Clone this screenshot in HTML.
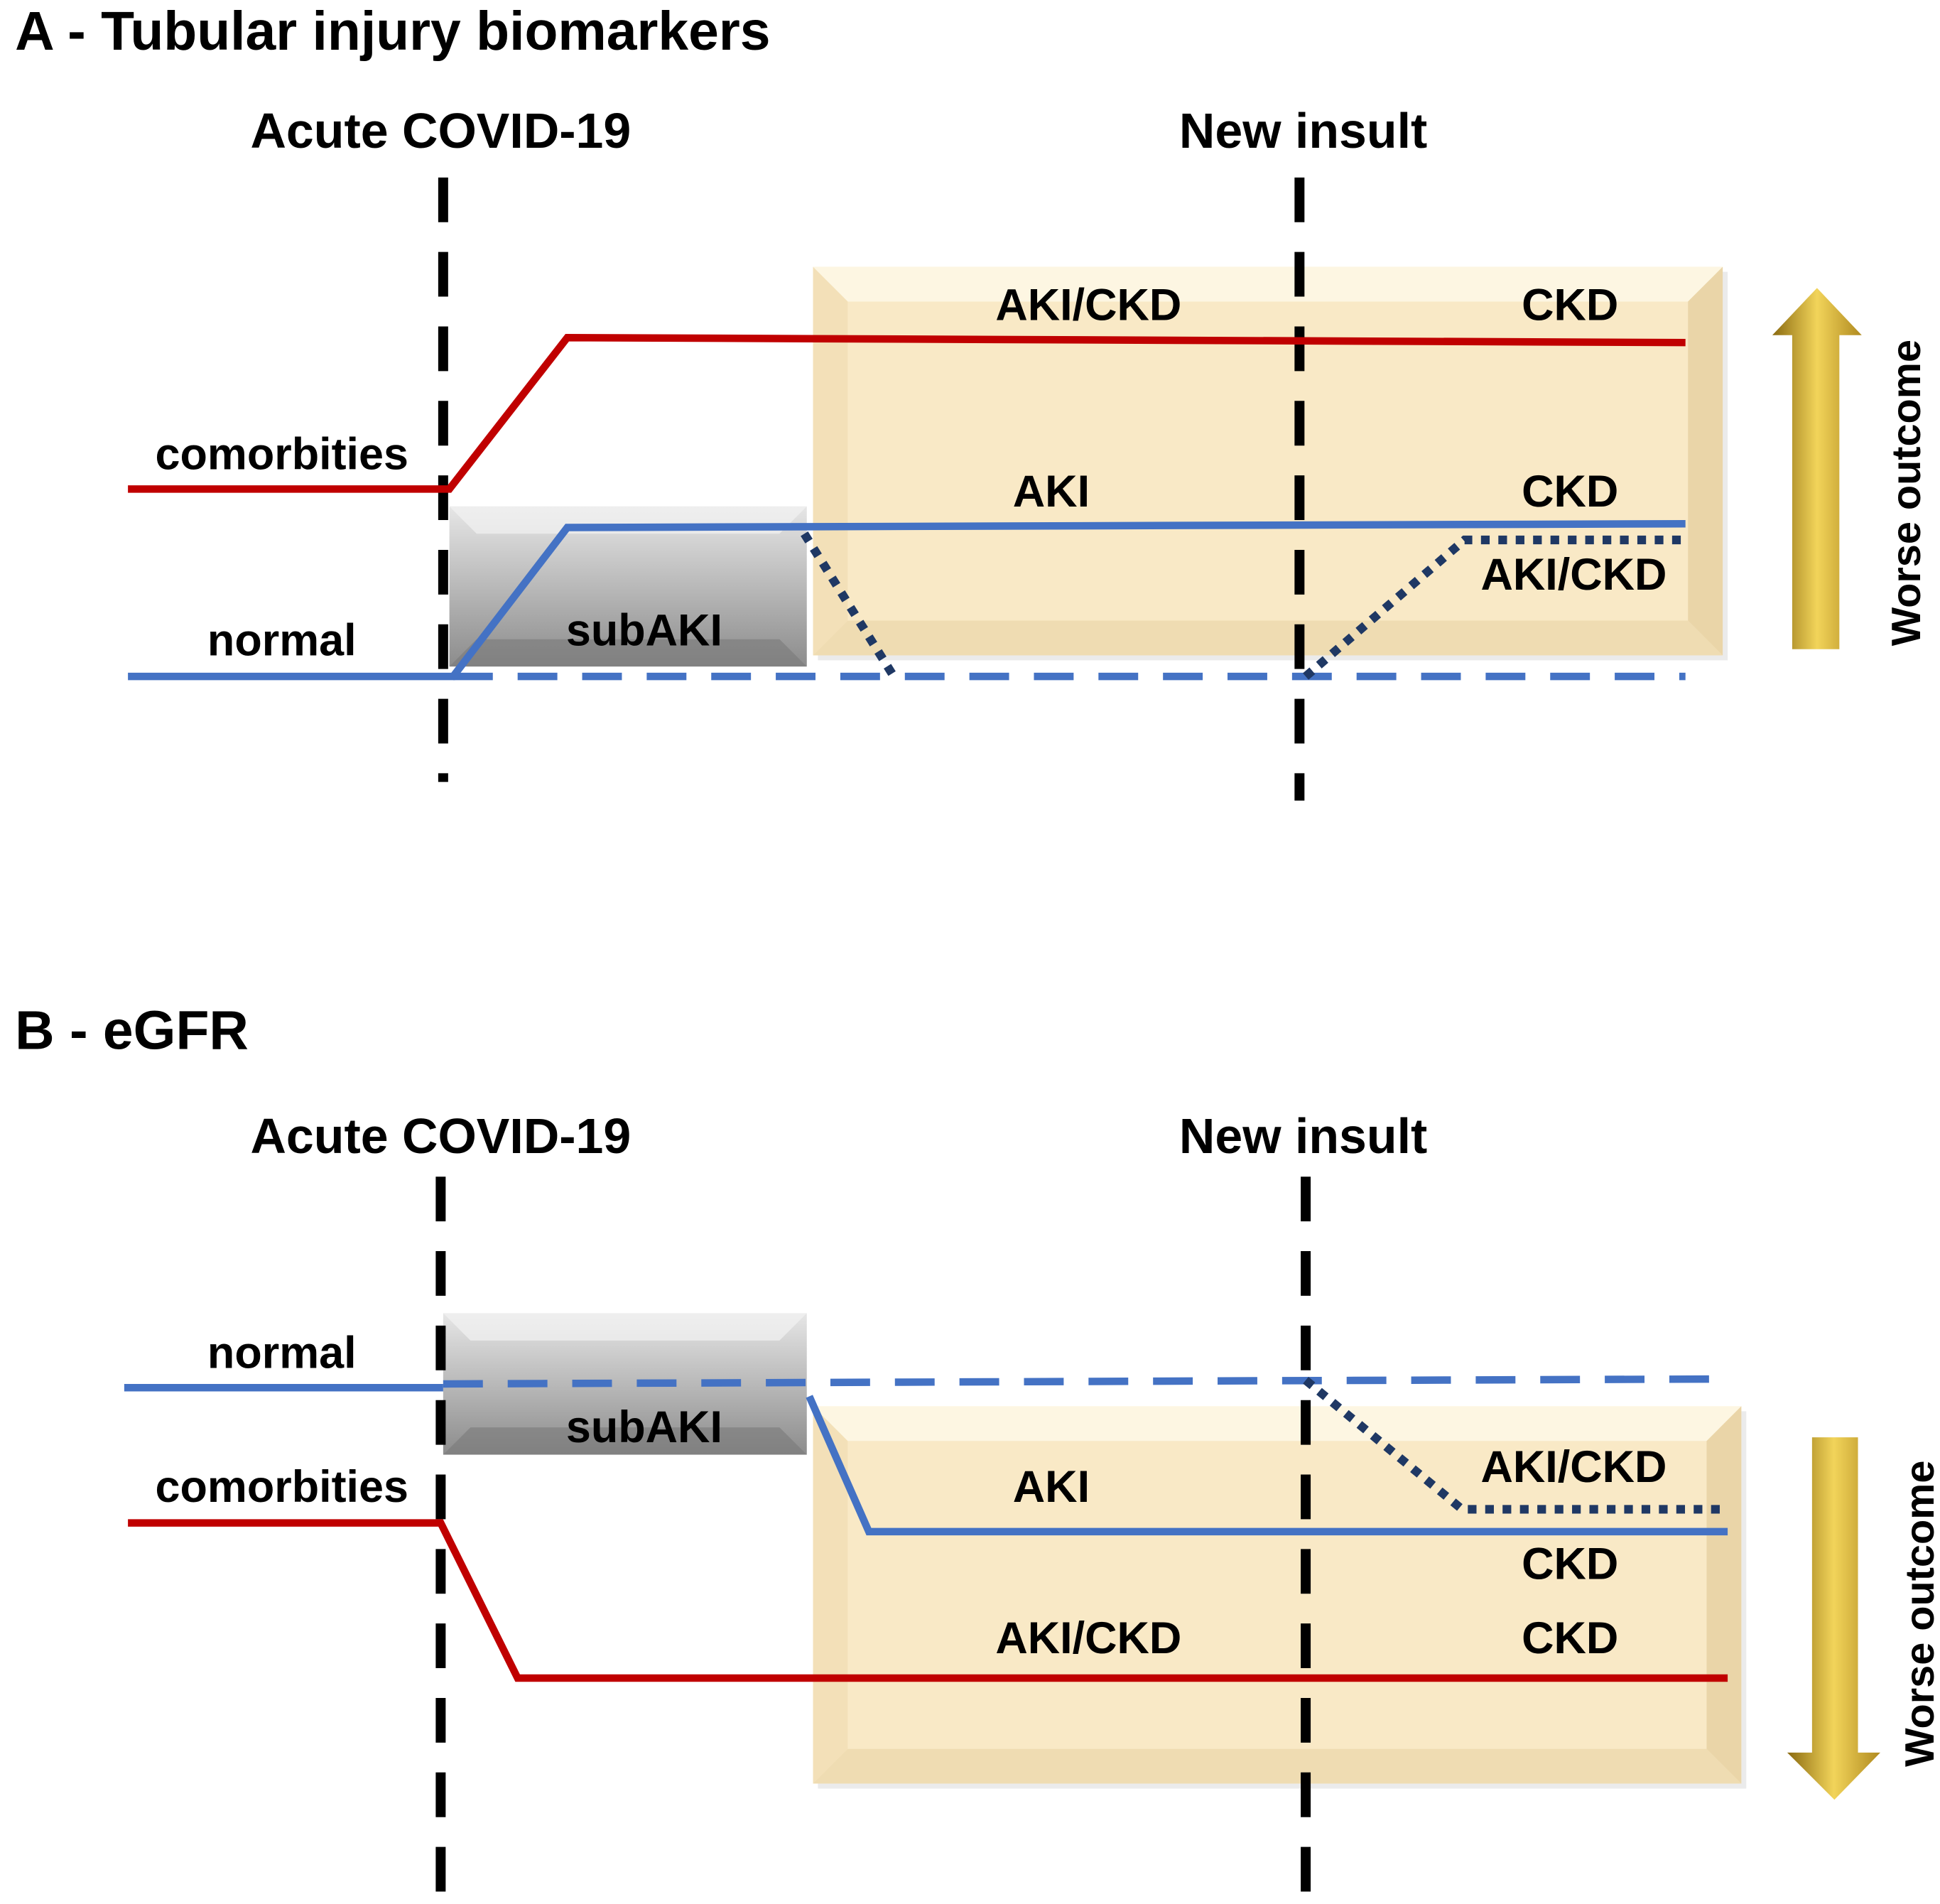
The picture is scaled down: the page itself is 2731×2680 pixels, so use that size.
<!DOCTYPE html>
<html><head><meta charset="utf-8"><style>
html,body{margin:0;padding:0;background:#fff;}
svg{display:block;}
text{font-family:"Liberation Sans",Arial,sans-serif;font-weight:bold;fill:#000;}
</style></head><body>
<svg width="2731" height="2680" viewBox="0 0 1563 1534" xmlns="http://www.w3.org/2000/svg">
<defs>
<linearGradient id="gray" x1="0" y1="0" x2="0" y2="1">
<stop offset="0" stop-color="#e6e6e6"/><stop offset="1" stop-color="#8c8c8c"/></linearGradient>
<linearGradient id="goldv" x1="0" y1="0" x2="1" y2="0">
<stop offset="0" stop-color="#8a6a10"/><stop offset="0.5" stop-color="#f2d45a"/><stop offset="1" stop-color="#b08a20"/></linearGradient>
</defs>

<!-- Panel A -->
<text x="12" y="40" font-size="44">A - Tubular injury biomarkers</text>
<text x="355" y="119" font-size="40" text-anchor="middle">Acute COVID-19</text>
<text x="1050" y="119" font-size="40" text-anchor="middle">New insult</text>

<rect x="659" y="219" width="733" height="313" fill="#ddd" opacity="0.6"/>
<rect x="655" y="215" width="733" height="313" fill="#f9e9c6"/>
<polygon points="655,215 1388,215 1360,243 683,243" fill="#fdf6e2"/>
<polygon points="655,215 683,243 683,500 655,528" fill="#f3e0b8"/>
<polygon points="1388,215 1360,243 1360,500 1388,528" fill="#ead5a8"/>
<polygon points="655,528 683,500 1360,500 1388,528" fill="#efdcb2"/>
<rect x="683" y="243" width="677" height="257" fill="#f9e9c6"/>

<rect x="362" y="408" width="288" height="129" fill="url(#gray)"/>
<polygon points="362,408 650,408 628,430 384,430" fill="#f2f2f2" opacity="0.7"/>
<polygon points="362,537 384,515 628,515 650,537" fill="#7a7a7a" opacity="0.6"/>

<line x1="357" y1="143" x2="357" y2="630" stroke="#000" stroke-width="8" stroke-dasharray="36,24"/>
<line x1="1047" y1="143" x2="1047" y2="645" stroke="#000" stroke-width="8" stroke-dasharray="36,24"/>

<polyline points="103,394 362,394 457,272 1358,276" fill="none" stroke="#c00000" stroke-width="6"/>
<line x1="365" y1="545" x2="1358" y2="545" stroke="#4472c4" stroke-width="6" stroke-dasharray="32,20"/>
<polyline points="103,545 365,545 457,425 1358,422" fill="none" stroke="#4472c4" stroke-width="6"/>
<polyline points="648,430 722,548" fill="none" stroke="#1f3864" stroke-width="7" stroke-dasharray="7,7"/>
<polyline points="1052,545 1180,435 1358,435" fill="none" stroke="#1f3864" stroke-width="7" stroke-dasharray="7,7"/>

<text x="227" y="378" font-size="36" text-anchor="middle">comorbities</text>
<text x="227" y="528" font-size="36" text-anchor="middle">normal</text>
<text x="519" y="520" font-size="36" text-anchor="middle">subAKI</text>
<text x="877" y="258" font-size="36" text-anchor="middle">AKI/CKD</text>
<text x="1265" y="258" font-size="36" text-anchor="middle">CKD</text>
<text x="847" y="408" font-size="36" text-anchor="middle">AKI</text>
<text x="1265" y="408" font-size="36" text-anchor="middle">CKD</text>
<text x="1268" y="475" font-size="36" text-anchor="middle">AKI/CKD</text>

<polygon points="1464,232 1500,270 1482,270 1482,523 1444,523 1444,270 1428,270" fill="url(#goldv)"/>
<text transform="translate(1547,397) rotate(-90)" font-size="33" text-anchor="middle">Worse outcome</text>

<!-- Panel B -->
<text x="12" y="845" font-size="44">B - eGFR</text>
<text x="355" y="929" font-size="40" text-anchor="middle">Acute COVID-19</text>
<text x="1050" y="929" font-size="40" text-anchor="middle">New insult</text>

<rect x="659" y="1137" width="748" height="304" fill="#ddd" opacity="0.6"/>
<rect x="655" y="1133" width="748" height="304" fill="#f9e9c6"/>
<polygon points="655,1133 1403,1133 1375,1161 683,1161" fill="#fdf6e2"/>
<polygon points="655,1133 683,1161 683,1409 655,1437" fill="#f3e0b8"/>
<polygon points="1403,1133 1375,1161 1375,1409 1403,1437" fill="#ead5a8"/>
<polygon points="655,1437 683,1409 1375,1409 1403,1437" fill="#efdcb2"/>
<rect x="683" y="1161" width="692" height="248" fill="#f9e9c6"/>

<rect x="357" y="1058" width="293" height="114" fill="url(#gray)"/>
<polygon points="357,1058 650,1058 628,1080 379,1080" fill="#f2f2f2" opacity="0.7"/>
<polygon points="357,1172 379,1150 628,1150 650,1172" fill="#7a7a7a" opacity="0.6"/>

<line x1="355" y1="948" x2="355" y2="1525" stroke="#000" stroke-width="8" stroke-dasharray="36,24"/>
<line x1="1052" y1="948" x2="1052" y2="1525" stroke="#000" stroke-width="8" stroke-dasharray="36,24"/>

<line x1="100" y1="1118" x2="357" y2="1118" stroke="#4472c4" stroke-width="6"/>
<line x1="357" y1="1115" x2="1392" y2="1111" stroke="#4472c4" stroke-width="6" stroke-dasharray="32,20"/>
<polyline points="652,1125 700,1234 1392,1234" fill="none" stroke="#4472c4" stroke-width="6"/>
<polyline points="1052,1112 1178,1216 1392,1216" fill="none" stroke="#1f3864" stroke-width="7" stroke-dasharray="7,7"/>
<polyline points="103,1227 355,1227 417,1352 1392,1352" fill="none" stroke="#c00000" stroke-width="6"/>

<text x="227" y="1102" font-size="36" text-anchor="middle">normal</text>
<text x="227" y="1210" font-size="36" text-anchor="middle">comorbities</text>
<text x="519" y="1162" font-size="36" text-anchor="middle">subAKI</text>
<text x="847" y="1210" font-size="36" text-anchor="middle">AKI</text>
<text x="1268" y="1194" font-size="36" text-anchor="middle">AKI/CKD</text>
<text x="1265" y="1272" font-size="36" text-anchor="middle">CKD</text>
<text x="877" y="1332" font-size="36" text-anchor="middle">AKI/CKD</text>
<text x="1265" y="1332" font-size="36" text-anchor="middle">CKD</text>

<polygon points="1460,1158 1497,1158 1497,1412 1515,1412 1478,1450 1440,1412 1460,1412" fill="url(#goldv)"/>
<text transform="translate(1558,1300) rotate(-90)" font-size="33" text-anchor="middle">Worse outcome</text>
</svg>
</body></html>
